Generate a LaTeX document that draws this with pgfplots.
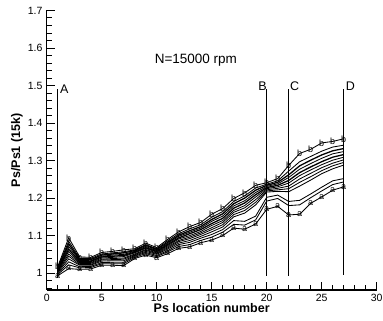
\documentclass[border=0pt]{standalone}
\usepackage{fontspec}
\setmainfont{Liberation Sans}
\usepackage{pgfplots}
\usepackage{pgfplotstable}
\pgfplotsset{compat=1.18}
\pgfplotstableread{
x a L2 L3 U1 U2 U3 U4 U5 U6 U7 U8 b
1 0.993 0.996 0.998 1.001 1.003 1.005 1.006 1.008 1.010 1.012 1.014 1.017
2 1.012 1.022 1.030 1.038 1.045 1.051 1.058 1.064 1.071 1.078 1.085 1.094
3 1.010 1.014 1.017 1.021 1.023 1.026 1.028 1.031 1.034 1.036 1.039 1.043
4 1.011 1.015 1.018 1.021 1.023 1.026 1.028 1.031 1.033 1.036 1.039 1.042
5 1.021 1.025 1.028 1.032 1.035 1.037 1.040 1.043 1.045 1.048 1.051 1.055
6 1.021 1.025 1.029 1.033 1.036 1.039 1.042 1.045 1.048 1.051 1.054 1.058
7 1.020 1.025 1.029 1.033 1.037 1.040 1.044 1.047 1.050 1.054 1.057 1.062
8 1.039 1.042 1.045 1.047 1.049 1.051 1.054 1.056 1.058 1.060 1.062 1.065
9 1.048 1.052 1.055 1.058 1.061 1.063 1.066 1.068 1.071 1.074 1.076 1.080
10 1.041 1.044 1.047 1.050 1.052 1.054 1.056 1.058 1.060 1.063 1.065 1.068
11 1.052 1.057 1.060 1.064 1.067 1.070 1.073 1.076 1.079 1.082 1.086 1.090
12 1.066 1.071 1.076 1.080 1.084 1.087 1.091 1.094 1.098 1.101 1.105 1.110
13 1.070 1.076 1.082 1.087 1.092 1.096 1.100 1.105 1.109 1.113 1.118 1.124
14 1.081 1.087 1.093 1.098 1.103 1.107 1.111 1.116 1.120 1.124 1.129 1.135
15 1.088 1.096 1.103 1.110 1.116 1.121 1.127 1.132 1.138 1.143 1.149 1.157
16 1.100 1.109 1.116 1.123 1.129 1.135 1.140 1.146 1.152 1.158 1.164 1.172
17 1.120 1.130 1.140 1.150 1.156 1.162 1.167 1.173 1.179 1.185 1.191 1.199
18 1.117 1.128 1.138 1.160 1.167 1.174 1.180 1.187 1.193 1.200 1.206 1.214
19 1.131 1.142 1.152 1.182 1.189 1.196 1.203 1.209 1.215 1.221 1.227 1.234
20 1.170 1.192 1.202 1.216 1.219 1.222 1.225 1.228 1.231 1.234 1.237 1.241
21 1.178 1.199 1.208 1.218 1.222 1.226 1.230 1.234 1.238 1.242 1.246 1.252
22 1.155 1.180 1.191 1.217 1.225 1.232 1.240 1.247 1.255 1.262 1.272 1.287
23 1.157 1.182 1.194 1.232 1.242 1.251 1.260 1.268 1.277 1.286 1.297 1.319
24 1.186 1.201 1.211 1.248 1.257 1.266 1.275 1.283 1.292 1.301 1.311 1.330
25 1.203 1.219 1.229 1.265 1.273 1.281 1.289 1.297 1.306 1.315 1.325 1.347
26 1.221 1.236 1.246 1.278 1.286 1.293 1.301 1.309 1.318 1.326 1.336 1.351
27 1.230 1.243 1.252 1.288 1.295 1.302 1.309 1.316 1.324 1.332 1.341 1.358
}\data
\begin{document}
\begin{tikzpicture}
\useasboundingbox (-46.7pt,-31pt) rectangle (336.3pt,290pt);
\begin{axis}[
  scale only axis, width=330pt, height=279.5pt,
  xmin=0, xmax=30, ymin=0.955, ymax=1.7,
  axis x line*=bottom, axis y line*=left,
  axis line style={line width=1.2pt,-},
  xtick={0,5,10,15,20,25,30},
  ytick={1,1.1,1.2,1.3,1.4,1.5,1.6,1.7},
  minor x tick num=4,
  minor ytick={0.96,0.98,1.02,1.04,1.06,1.08,1.12,1.14,1.16,1.18,1.22,1.24,1.26,1.28,1.32,1.34,1.36,1.38,1.42,1.44,1.46,1.48,1.52,1.54,1.56,1.58,1.62,1.64,1.66,1.68},
  tick align=inside, major tick length=8pt, minor tick length=5pt,
  tick style={line width=1pt, black},
  /pgf/number format/assume math mode=true,
  ticklabel style={font=\fontsize{10.5}{12}\selectfont},
  yticklabel style={/pgf/number format/fixed, inner sep=0pt, xshift=-4pt},
  xticklabel style={inner sep=0pt, yshift=-4pt},
  xlabel={Ps location number}, ylabel={Ps/Ps1 (15k)},
  label style={font=\fontsize{12.5}{14}\selectfont\bfseries},
  xlabel style={at={(axis description cs:0.5,-0.047)}, anchor=north, inner sep=0pt},
  ylabel style={at={(axis description cs:-0.09,0.5)}, anchor=center, inner sep=0pt},
  clip=false,
  every axis plot/.append style={black, line width=0.85pt},
]
\addplot[mark=text, text mark={a}, text mark as node, text mark style={font=\fontsize{9}{9}\selectfont, inner sep=0pt}] table[x=x,y=a] {\data};
\addplot[mark=none] table[x=x,y=L2] {\data};
\addplot[mark=none] table[x=x,y=L3] {\data};
\addplot[mark=none] table[x=x,y=U1] {\data};
\addplot[mark=none] table[x=x,y=U2] {\data};
\addplot[mark=none] table[x=x,y=U3] {\data};
\addplot[mark=none] table[x=x,y=U4] {\data};
\addplot[mark=none, line width=1.3pt] table[x=x,y=U5] {\data};
\addplot[mark=none] table[x=x,y=U6] {\data};
\addplot[mark=none, line width=1.3pt] table[x=x,y=U7] {\data};
\addplot[mark=none] table[x=x,y=U8] {\data};
\addplot[mark=text, text mark={b}, text mark as node, text mark style={font=\fontsize{9}{9}\selectfont, inner sep=0pt}] table[x=x,y=b] {\data};
% vertical reference lines
\addplot[mark=none, line width=0.7pt] coordinates {(1,0.987) (1,1.49)};
\addplot[mark=none, line width=0.7pt] coordinates {(20,0.993) (20,1.49)};
\addplot[mark=none, line width=0.7pt] coordinates {(22,0.993) (22,1.49)};
\addplot[mark=none, line width=0.7pt] coordinates {(27,0.996) (27,1.49)};
\node[anchor=base west, inner sep=0pt, font=\fontsize{12.5}{14}\selectfont] at (axis cs:1.21,1.479) {A};
\node[anchor=base east, inner sep=0pt, font=\fontsize{12.5}{14}\selectfont] at (axis cs:20.03,1.486) {B};
\node[anchor=base west, inner sep=0pt, font=\fontsize{12.5}{14}\selectfont] at (axis cs:22.12,1.488) {C};
\node[anchor=base west, inner sep=0pt, font=\fontsize{12.5}{14}\selectfont] at (axis cs:27.18,1.486) {D};
\node[anchor=base, inner sep=0pt, font=\fontsize{13.5}{16}\selectfont] at (axis cs:13.56,1.559) {N=15000 rpm};
\end{axis}
\end{tikzpicture}
\end{document}
